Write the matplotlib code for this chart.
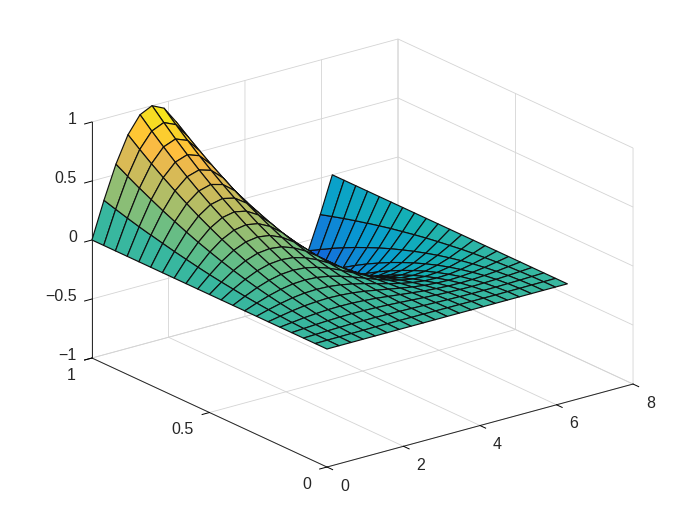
import matplotlib
matplotlib.use("Agg")
import matplotlib.pyplot as plt
import numpy as np
from matplotlib.colors import LinearSegmentedColormap, Normalize
from mpl_toolkits.mplot3d import proj3d

plt.rcParams['font.family'] = ['Liberation Sans', 'DejaVu Sans']

x_grid = [0, 0.314, 0.628, 0.942, 1.257, 1.571, 1.885, 2.199, 2.513, 2.827, 3.142,
          3.456, 3.770, 4.084, 4.398, 4.712, 5.027, 5.341, 5.655, 5.969, 6.283]
y_grid = [0, 0.05, 0.1, 0.15, 0.2, 0.25, 0.3, 0.35, 0.4, 0.45, 0.5,
          0.55, 0.6, 0.65, 0.7, 0.75, 0.8, 0.85, 0.9, 0.95, 1]

# surface height, one row per y_grid value
z_table = [
    [0, 0, 0, 0, 0, 0, 0, 0, 0, 0, 0, 0, 0, 0, 0, 0, 0, 0, 0, 0, 0],
    [0, .001, .001, .002, .002, .003, .002, .002, .001, .001, 0, -.001, -.001, -.002, -.002, -.003, -.002, -.002, -.001, -.001, 0],
    [0, .003, .006, .008, .010, .010, .010, .008, .006, .003, 0, -.003, -.006, -.008, -.010, -.010, -.010, -.008, -.006, -.003, 0],
    [0, .007, .013, .018, .021, .023, .021, .018, .013, .007, 0, -.007, -.013, -.018, -.021, -.023, -.021, -.018, -.013, -.007, 0],
    [0, .012, .024, .032, .038, .040, .038, .032, .024, .012, 0, -.012, -.024, -.032, -.038, -.040, -.038, -.032, -.024, -.012, 0],
    [0, .019, .037, .051, .059, .063, .059, .051, .037, .019, 0, -.019, -.037, -.051, -.059, -.063, -.059, -.051, -.037, -.019, 0],
    [0, .028, .053, .073, .086, .090, .086, .073, .053, .028, 0, -.028, -.053, -.073, -.086, -.090, -.086, -.073, -.053, -.028, 0],
    [0, .038, .072, .099, .117, .123, .117, .099, .072, .038, 0, -.038, -.072, -.099, -.117, -.123, -.117, -.099, -.072, -.038, 0],
    [0, .049, .094, .129, .152, .160, .152, .129, .094, .049, 0, -.049, -.094, -.129, -.152, -.160, -.152, -.129, -.094, -.049, 0],
    [0, .063, .119, .164, .193, .203, .193, .164, .119, .063, 0, -.063, -.119, -.164, -.193, -.203, -.193, -.164, -.119, -.063, 0],
    [0, .077, .147, .202, .238, .250, .238, .202, .147, .077, 0, -.077, -.147, -.202, -.238, -.250, -.238, -.202, -.147, -.077, 0],
    [0, .093, .178, .245, .288, .303, .288, .245, .178, .093, 0, -.093, -.178, -.245, -.288, -.303, -.288, -.245, -.178, -.093, 0],
    [0, .111, .212, .291, .342, .360, .342, .291, .212, .111, 0, -.111, -.212, -.291, -.342, -.360, -.342, -.291, -.212, -.111, 0],
    [0, .131, .248, .342, .402, .423, .402, .342, .248, .131, 0, -.131, -.248, -.342, -.402, -.423, -.402, -.342, -.248, -.131, 0],
    [0, .151, .288, .396, .466, .490, .466, .396, .288, .151, 0, -.151, -.288, -.396, -.466, -.490, -.466, -.396, -.288, -.151, 0],
    [0, .174, .331, .455, .535, .563, .535, .455, .331, .174, 0, -.174, -.331, -.455, -.535, -.563, -.535, -.455, -.331, -.174, 0],
    [0, .198, .376, .518, .609, .640, .609, .518, .376, .198, 0, -.198, -.376, -.518, -.609, -.640, -.609, -.518, -.376, -.198, 0],
    [0, .223, .425, .584, .687, .723, .687, .584, .425, .223, 0, -.223, -.425, -.584, -.687, -.723, -.687, -.584, -.425, -.223, 0],
    [0, .250, .476, .655, .770, .810, .770, .655, .476, .250, 0, -.250, -.476, -.655, -.770, -.810, -.770, -.655, -.476, -.250, 0],
    [0, .279, .531, .730, .858, .903, .858, .730, .531, .279, 0, -.279, -.531, -.730, -.858, -.903, -.858, -.730, -.531, -.279, 0],
    [0, .309, .588, .809, .951, 1, .951, .809, .588, .309, 0, -.309, -.588, -.809, -.951, -1, -.951, -.809, -.588, -.309, 0],
]

x_ticks = [0, 2, 4, 6, 8]
y_ticks = [0, 0.5, 1]
z_ticks = [-1, -0.5, 0, 0.5, 1]
x_labels = ["0", "2", "4", "6", "8"]
y_labels = ["0", "0.5", "1"]
z_labels = ["\u22121", "\u22120.5", "0", "0.5", "1"]

# parula stops, denser at the orange end
parula_colors = [(.2081, .1663, .5292), (.0591, .3598, .8683), (.0723, .4887, .8467),
                 (.0265, .6137, .8135), (.0843, .6928, .7062), (.3482, .7424, .5473),
                 (.6473, .7456, .4188), (.8824, .7274, .3217), (.9450, .7261, .2886),
                 (.9739, .7314, .2666), (.9938, .7455, .2403), (.9990, .7653, .2164),
                 (.9880, .8066, .1794), (.9697, .8481, .1475), (.9598, .9218, .0948),
                 (.9763, .9831, .0538)]
parula_stops = [0, 7 / 63, 14 / 63, 21 / 63, 28 / 63, 35 / 63, 42 / 63, 49 / 63, 51 / 63,
                52 / 63, 53 / 63, 54 / 63, 56 / 63, 58 / 63, 61 / 63, 1]
parula = LinearSegmentedColormap.from_list("parula", list(zip(parula_stops, parula_colors)))

X, Y = np.meshgrid(x_grid, y_grid)
Z = np.array(z_table)
face_colors = parula(Normalize(-1, 1)(Z))

fig = plt.figure(figsize=(7, 5.25), dpi=100)
ax = fig.add_axes([62.6 / 700, -27.9 / 525, 584 / 700, 584 / 525], projection='3d', proj_type='ortho')
ax.view_init(elev=20.77, azim=-127.4)
ax.set_box_aspect((385.2, 386.9, 252.4))

ax.plot_surface(X, Y, Z, facecolors=face_colors, rstride=1, cstride=1, shade=False,
                edgecolor='#101010', linewidth=0.85, antialiased=True)

ax.set_xlim(0, 8, view_margin=0)
ax.set_ylim(0, 1, view_margin=0)
ax.set_zlim(-1, 1, view_margin=0)
# axis3d keeps resetting tick label transforms, so labels are placed by hand below
ax.set_xticks(x_ticks, [""] * len(x_ticks))
ax.set_yticks(y_ticks, [""] * len(y_ticks))
ax.set_zticks(z_ticks, [""] * len(z_ticks))

for axis in (ax.xaxis, ax.yaxis, ax.zaxis):
    axis.set_pane_color((1, 1, 1, 0))
    axis.pane.set_edgecolor('#d0d0d0')
    axis.pane.set_linewidth(0.6)
    axis.line.set_color('#262626')
    axis.line.set_linewidth(0.7)
    axis._axinfo['grid']['color'] = '#d4d4d4'
    axis._axinfo['grid']['linewidth'] = 0.6
    axis._axinfo['tick']['inward_factor'] = 0.3
    axis._axinfo['tick']['outward_factor'] = 0
    axis._axinfo['tick']['linewidth'] = {True: 0.7, False: 0.7}
    axis._axinfo['tick']['color'] = '#262626'


def tick_label(text, x, y, z, dx, dy, ha):
    px, py, _ = proj3d.proj_transform(x, y, z, ax.get_proj())
    ax.annotate(text, (px, py), xytext=(dx, dy), textcoords='offset pixels', ha=ha, va='center',
                fontsize=11.5, color='#262626', annotation_clip=False)


for val, text in zip(x_ticks, x_labels):
    tick_label(text, val, 0, -1, 17.5, -19, 'center')
for val, text in zip(y_ticks, y_labels):
    tick_label(text, 0, val, -1, -16, -17, 'right')
for val, text in zip(z_ticks, z_labels):
    tick_label(text, 0, 1, val, -15, 2.5, 'right')

plt.savefig("out.png", dpi=100)
plt.close()
